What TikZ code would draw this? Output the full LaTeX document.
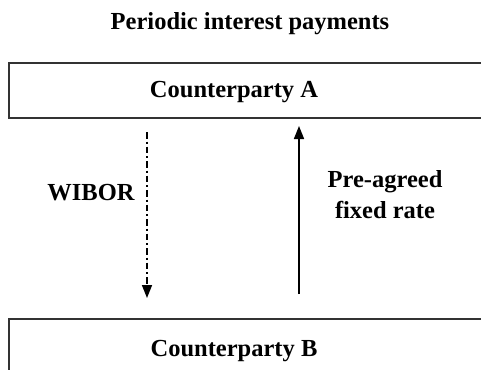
\documentclass[tikz,border=0pt]{standalone}
\usepackage{fontspec}
\setmainfont{Liberation Serif}
\usetikzlibrary{arrows.meta}
\begin{document}
\begin{tikzpicture}[x=1pt,y=-1pt,
  lbl/.style={font=\fontsize{24.5}{31}\selectfont\bfseries, inner sep=0pt, anchor=base},
  partybox/.style={draw=black!80, line width=1.4pt},
  flow/.style={line width=1.6pt, -{Triangle[length=13pt,width=10pt]}},
  floatflow/.style={flow, dash pattern=on 6.5pt off 3pt on 2pt off 3pt}]
  \clip (0,0) rectangle (481,369);
  \fill[white] (0,0) rectangle (481,369);
  % title
  \node[lbl] (title) at (250,30) {Periodic interest payments};
  % the two counterparties; both boxes run past the right and bottom edges
  \draw[partybox] (9,63) rectangle (540,118);
  \node[lbl] (A) at (234,97) {Counterparty A};
  \draw[partybox] (9,319) rectangle (540,400);
  \node[lbl] (B) at (234,356) {Counterparty B};
  % floating leg, A pays B
  \coordinate (wiborStart) at (147,132);
  \coordinate (wiborEnd) at (147,298);
  \draw[floatflow] (wiborStart) -- (wiborEnd);
  \node[lbl] (wibor) at (91,200) {WIBOR};
  % fixed leg, B pays A
  \coordinate (fixedStart) at (299,294);
  \coordinate (fixedEnd) at (299,126);
  \draw[flow] (fixedStart) -- (fixedEnd);
  \node[lbl] (fixed1) at (385,187) {Pre-agreed};
  \node[lbl] (fixed2) at (385,218) {fixed rate};
\end{tikzpicture}
\end{document}
